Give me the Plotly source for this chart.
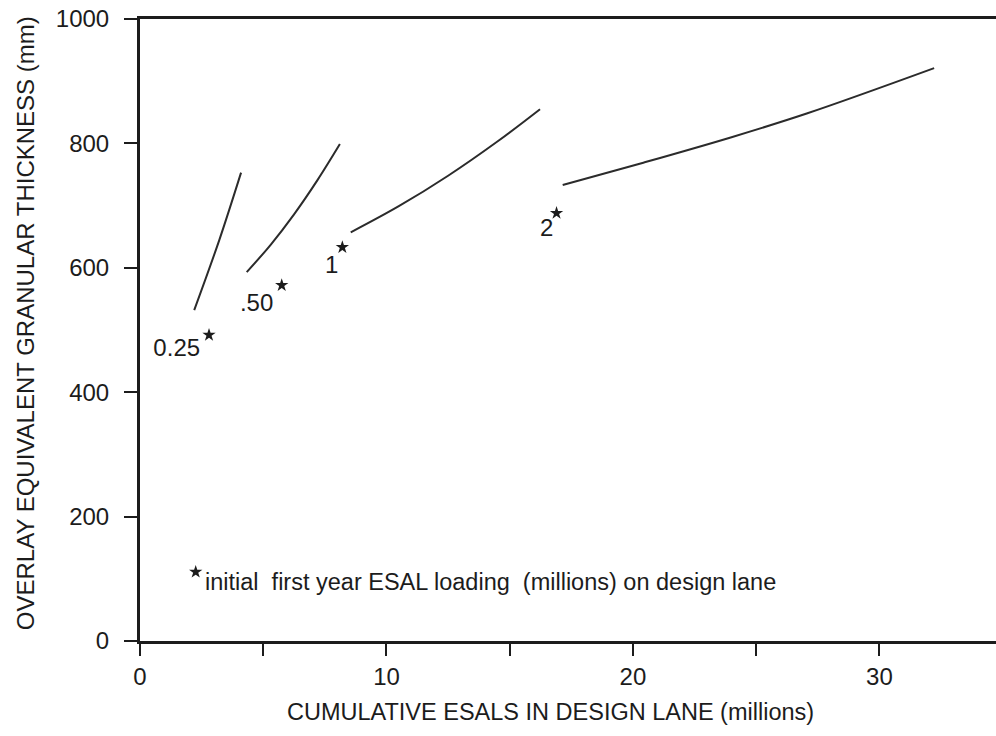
import plotly.graph_objects as go

# Overlay design curves, one per initial first-year ESAL loading (millions)
curve_025_x = [2.20, 3.22, 4.10]
curve_025_y = [532, 645, 753]
curve_050_x = [4.33, 5.30, 6.25, 7.20, 8.11]
curve_050_y = [593, 637, 686, 741, 799]
curve_1_x = [8.55, 10.50, 12.50, 14.50, 16.23]
curve_1_y = [657, 699, 748, 803, 855]
curve_2_x = [17.15, 20.42, 24.00, 27.05, 32.22]
curve_2_y = [733, 769, 810, 848, 921]

# Starred start points and their loading labels
star_x = [2.80, 5.75, 8.21, 16.90]
star_y = [492, 572, 633, 688]
label_text = ["0.25", ".50", "1", "2"]
label_x = [1.49, 4.73, 7.78, 16.50]
label_y = [468, 540, 602, 661]

# Key for the star symbol
key_star_x = [2.26]
key_star_y = [111]
key_text = "initial  first year ESAL loading  (millions) on design lane"

x_ticks = [0, 5, 10, 15, 20, 25, 30]
x_tick_text = ["0", "", "10", "", "20", "", "30"]
y_ticks = [0, 200, 400, 600, 800, 1000]

FONT = "Liberation Sans, Arial, Helvetica, sans-serif"
INK = "#1c1c1c"

fig = go.Figure()

for cx, cy in [(curve_025_x, curve_025_y), (curve_050_x, curve_050_y),
               (curve_1_x, curve_1_y), (curve_2_x, curve_2_y)]:
    fig.add_trace(go.Scatter(
        x=cx, y=cy, mode="lines",
        line=dict(color="#2b2b2b", width=2, shape="spline", smoothing=1.0),
        showlegend=False, hoverinfo="skip"))

fig.add_trace(go.Scatter(
    x=star_x + key_star_x, y=star_y + key_star_y, mode="markers",
    marker=dict(symbol="star", size=10, color=INK, line=dict(width=0)),
    showlegend=False, hoverinfo="skip"))

fig.add_trace(go.Scatter(
    x=label_x, y=label_y, mode="text", text=label_text,
    textposition="middle center",
    textfont=dict(family=FONT, size=24, color=INK),
    showlegend=False, hoverinfo="skip"))

fig.add_annotation(
    x=2.56, y=95, xref="x", yref="y", text=key_text, showarrow=False,
    xanchor="left", yanchor="middle",
    font=dict(family=FONT, size=23.5, color=INK))

# Axis titles
fig.add_annotation(
    x=0.480, y=-0.114, xref="paper", yref="paper",
    text="CUMULATIVE ESALS IN DESIGN LANE (millions)", showarrow=False,
    xanchor="center", yanchor="middle",
    font=dict(family=FONT, size=23.5, color=INK))
fig.add_annotation(
    x=-0.1343, y=0.511, xref="paper", yref="paper",
    text="OVERLAY EQUIVALENT GRANULAR THICKNESS (mm)", showarrow=False,
    textangle=-90, xanchor="center", yanchor="middle",
    font=dict(family=FONT, size=24, color=INK))

fig.update_xaxes(
    range=[0, 34.73], tickvals=x_ticks, ticktext=x_tick_text,
    showline=True, linecolor=INK, linewidth=3, mirror=True,
    ticks="outside", ticklen=12, tickwidth=2, tickcolor=INK,
    showgrid=False, zeroline=False,
    tickfont=dict(family=FONT, size=24, color=INK))
fig.update_yaxes(
    range=[0, 1000], tickvals=y_ticks,
    showline=True, linecolor=INK, linewidth=3,
    ticks="outside", ticklen=13, tickwidth=2, tickcolor=INK,
    showgrid=False, zeroline=False, ticklabelstandoff=10,
    tickfont=dict(family=FONT, size=24, color=INK))

fig.update_layout(
    width=996, height=736,
    margin=dict(l=140, r=0, t=19, b=95),
    paper_bgcolor="white", plot_bgcolor="white",
    font=dict(family=FONT, color=INK))

fig.write_html("out.html")
